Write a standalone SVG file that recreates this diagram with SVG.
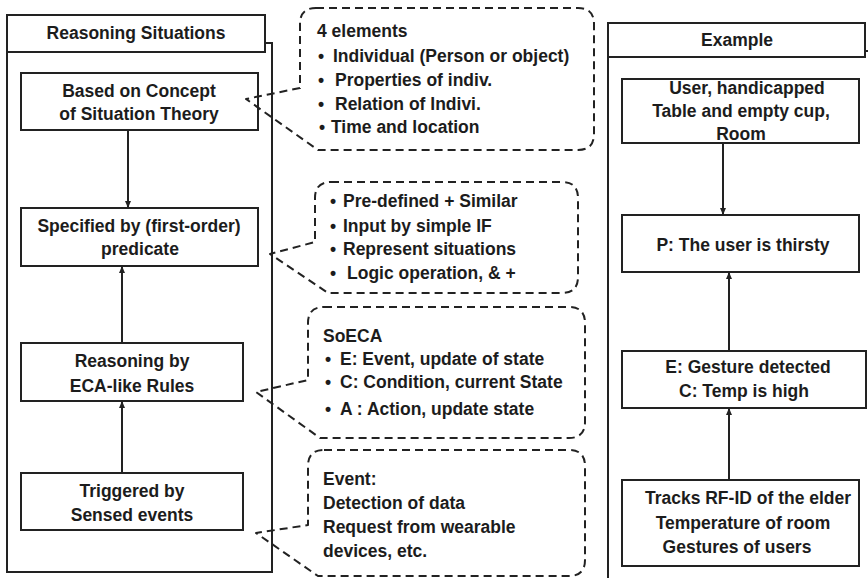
<svg xmlns="http://www.w3.org/2000/svg" width="868" height="578" viewBox="0 0 868 578">
  <style>
    .box { fill: #ffffff; stroke: #222222; stroke-width: 2; }
    .frame { fill: none; stroke: #222222; stroke-width: 2; }
    .callout { fill: none; stroke: #222222; stroke-width: 2; stroke-dasharray: 8 5; stroke-linejoin: round; }
    .link { fill: none; stroke: #222222; stroke-width: 2; }
    text { font-family: "Liberation Sans", Arial, sans-serif; font-size: 17.5px; font-weight: bold; fill: #1c1c1c; }
    .c { text-anchor: middle; }
  </style>
  <defs>
    <marker id="arrow" markerUnits="userSpaceOnUse" markerWidth="8" markerHeight="8" refX="7" refY="4" orient="auto">
      <path d="M0,1 L7,4 L0,7 z" fill="#222222"/>
    </marker>
  </defs>

  <rect width="868" height="578" fill="#ffffff"/>

  <!-- Left panel: Reasoning Situations -->
  <g id="panel-reasoning">
    <path class="frame" d="M265,43 H272 V572 H7 V51"/>
    <rect class="box" x="7" y="15" width="258" height="37"/>
    <text class="c" x="136" y="39">Reasoning Situations</text>
  </g>

  <!-- Right panel: Example -->
  <g id="panel-example">
    <path class="frame" d="M865,51 H872 M608,57 V580"/>
    <rect class="box" x="608" y="23" width="257" height="34"/>
    <text class="c" x="737" y="46">Example</text>
  </g>

  <!-- Reasoning nodes -->
  <g id="node-concept">
    <rect class="box" x="21" y="73" width="237" height="57"/>
    <text class="c" x="139" y="97">Based on Concept</text>
    <text class="c" x="139" y="120">of Situation Theory</text>
  </g>
  <g id="node-predicate">
    <rect class="box" x="21" y="208" width="237" height="58"/>
    <text class="c" x="139" y="232">Specified by (first-order)</text>
    <text class="c" x="140" y="255">predicate</text>
  </g>
  <g id="node-eca">
    <rect class="box" x="21" y="343" width="222" height="58"/>
    <text class="c" x="132" y="367">Reasoning by</text>
    <text class="c" x="132" y="392">ECA-like Rules</text>
  </g>
  <g id="node-triggered">
    <rect class="box" x="21" y="473" width="222" height="57"/>
    <text class="c" x="132" y="497">Triggered  by</text>
    <text class="c" x="132" y="521">Sensed events</text>
  </g>

  <!-- Example nodes -->
  <g id="node-user">
    <rect class="box" x="622" y="79" width="237" height="64"/>
    <text class="c" x="747" y="94">User, handicapped</text>
    <text class="c" x="741" y="117">Table and empty cup,</text>
    <text class="c" x="741" y="140">Room</text>
  </g>
  <g id="node-thirsty">
    <rect class="box" x="622" y="215" width="237" height="57"/>
    <text class="c" x="743" y="251">P: The user is thirsty</text>
  </g>
  <g id="node-gesture">
    <rect class="box" x="622" y="351" width="244" height="57"/>
    <text class="c" x="748" y="373">E: Gesture detected</text>
    <text class="c" x="744" y="397">C: Temp is high</text>
  </g>
  <g id="node-tracks">
    <rect class="box" x="622" y="480" width="237" height="86"/>
    <text class="c" x="748" y="504">Tracks RF-ID of the elder</text>
    <text class="c" x="743" y="529">Temperature  of room</text>
    <text class="c" x="737" y="553">Gestures of users</text>
  </g>

  <!-- Dashed callouts, drawn over the boxes they point at -->
  <g id="callout-elements">
    <path class="callout" d="M316,8 H578 Q594,8 594,24 V134 Q594,150 578,150 H318 L246,99 L300,88 V24 Q300,8 316,8 Z"/>
    <text x="317" y="37">4 elements</text>
    <text y="62"><tspan x="318">•</tspan><tspan x="333">Individual (Person or object)</tspan></text>
    <text y="86"><tspan x="318">•</tspan><tspan x="335">Properties of indiv.</tspan></text>
    <text y="110"><tspan x="318">•</tspan><tspan x="335">Relation of Indivi.</tspan></text>
    <text y="133"><tspan x="319">•</tspan><tspan x="331">Time and location</tspan></text>
  </g>

  <g id="callout-predicate">
    <path class="callout" d="M331,182 H562 Q578,182 578,198 V277 Q578,293 562,293 H328 L270,254 L315,242 V198 Q315,182 331,182 Z"/>
    <text y="207"><tspan x="330">•</tspan><tspan x="343">Pre-defined + Similar</tspan></text>
    <text y="232"><tspan x="330">•</tspan><tspan x="343">Input by simple IF</tspan></text>
    <text y="255"><tspan x="330">•</tspan><tspan x="343">Represent situations</tspan></text>
    <text y="279"><tspan x="330">•</tspan><tspan x="347">Logic operation, &amp; +</tspan></text>
  </g>

  <g id="callout-soeca">
    <path class="callout" d="M324,307 H569 Q585,307 585,323 V422 Q585,438 569,438 H320 L256,392 L308,380 V323 Q308,307 324,307 Z"/>
    <text x="323" y="342">SoECA</text>
    <text y="365"><tspan x="325">•</tspan><tspan x="340">E: Event, update of state</tspan></text>
    <text y="388"><tspan x="325">•</tspan><tspan x="340">C: Condition, current State</tspan></text>
    <text y="415"><tspan x="325">•</tspan><tspan x="340">A : Action, update state</tspan></text>
  </g>

  <g id="callout-event">
    <path class="callout" d="M324,450 H569 Q585,450 585,466 V560 Q585,576 569,576 H318 L256,533 L308,525 V466 Q308,450 324,450 Z"/>
    <text x="323" y="485">Event:</text>
    <text x="323" y="509">Detection of data</text>
    <text x="323" y="533">Request from wearable</text>
    <text x="323" y="557">devices, etc.</text>
  </g>

  <!-- Connectors -->
  <g id="connectors">
    <line class="link" x1="128" y1="130" x2="128" y2="208" marker-end="url(#arrow)"/>
    <line class="link" x1="122" y1="343" x2="122" y2="266" marker-end="url(#arrow)"/>
    <line class="link" x1="122" y1="473" x2="122" y2="401" marker-end="url(#arrow)"/>
    <line class="link" x1="723" y1="143" x2="723" y2="215" marker-end="url(#arrow)"/>
    <line class="link" x1="729" y1="351" x2="729" y2="272" marker-end="url(#arrow)"/>
    <line class="link" x1="729" y1="480" x2="729" y2="408" marker-end="url(#arrow)"/>
  </g>
</svg>
